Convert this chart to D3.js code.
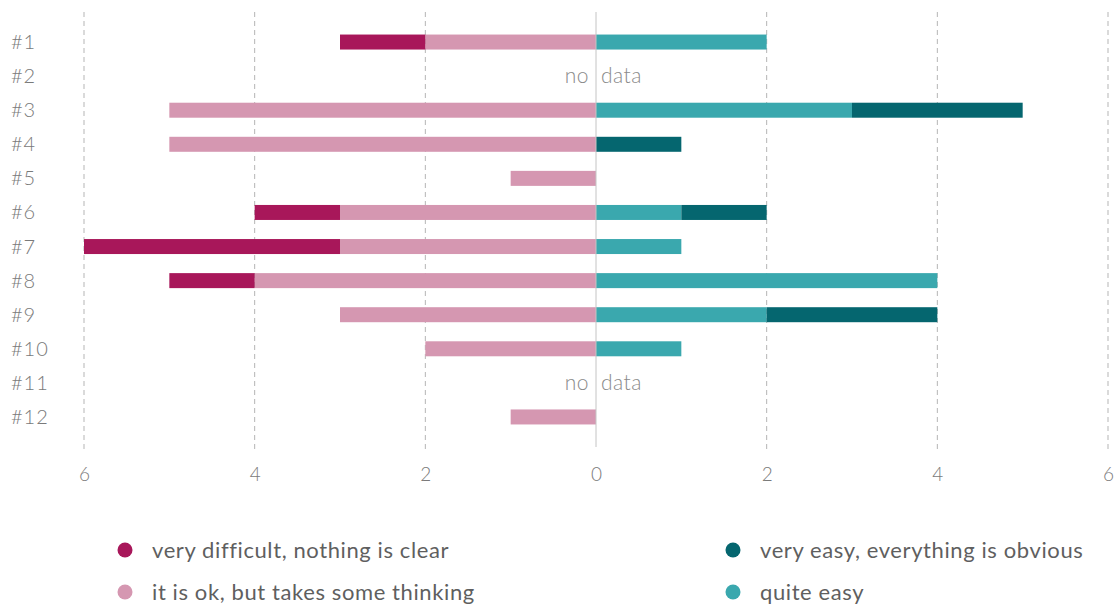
<!DOCTYPE html>
<html>
<head>
<meta charset="utf-8">
<script src="https://cdn.jsdelivr.net/npm/d3@7"></script>
<style>
  body { margin: 0; background: #fff; }
  svg { font-family: "Century Gothic", "Lato", "Noto Sans", sans-serif; }
</style>
</head>
<body>
<svg id="chart" width="1119" height="610"></svg>
<script>
// categories (rows)
const rows = ["#1", "#2", "#3", "#4", "#5", "#6", "#7", "#8", "#9", "#10", "#11", "#12"]
// null = no data
const veryDifficult = [1, null, 0, 0, 0, 1, 3, 1, 0, 0, null, 0]
const okThinking    = [2, null, 5, 5, 1, 3, 3, 4, 3, 2, null, 1]
const quiteEasy     = [2, null, 3, 0, 0, 1, 1, 4, 2, 1, null, 0]
const veryEasy      = [0, null, 2, 1, 0, 1, 0, 0, 2, 0, null, 0]
const tickValues = [-6, -4, -2, 0, 2, 4, 6]

const colors = {
  vd: "#a8175a",
  ok: "#d597b1",
  qe: "#3aa8ae",
  ve: "#05666f"
}

const svg = d3.select("#chart")

const x = d3.scaleLinear().domain([-6, 6]).range([84, 1108])
const y = d3.scaleBand().domain(rows).range([25, 434]).paddingInner(0.56).paddingOuter(0.28)

// grid lines
svg.append("g")
  .selectAll("line")
  .data(tickValues.filter(d => d !== 0))
  .enter()
  .append("line")
    .attr("x1", d => x(d)).attr("x2", d => x(d))
    .attr("y1", 12).attr("y2", 450)
    .attr("stroke", "#b5b5b5")
    .attr("stroke-width", 1)
    .attr("stroke-dasharray", "5,4")

// build segments
let segs = []
rows.forEach((r, i) => {
  if (okThinking[i] === null) return
  let ok = okThinking[i], vd = veryDifficult[i]
  let qe = quiteEasy[i], ve = veryEasy[i]
  if (ok) segs.push({ row: r, x0: -ok, x1: 0, c: colors.ok })
  if (vd) segs.push({ row: r, x0: -ok - vd, x1: -ok, c: colors.vd })
  if (qe) segs.push({ row: r, x0: 0, x1: qe, c: colors.qe })
  if (ve) segs.push({ row: r, x0: qe, x1: qe + ve, c: colors.ve })
})

svg.append("g")
  .selectAll("rect")
  .data(segs)
  .enter()
  .append("rect")
    .attr("x", d => x(d.x0))
    .attr("y", d => y(d.row))
    .attr("width", d => x(d.x1) - x(d.x0))
    .attr("height", y.bandwidth())
    .attr("fill", d => d.c)

// zero line
svg.append("line")
  .attr("x1", x(0)).attr("x2", x(0))
  .attr("y1", 12).attr("y2", 447)
  .attr("stroke", "#c4c4c4")
  .attr("stroke-width", 1)

// no data labels
const noData = rows.filter((r, i) => okThinking[i] === null)
const nd = svg.append("g").selectAll("g").data(noData).enter().append("g")
nd.append("text")
  .attr("x", x(0) - 7)
  .attr("y", d => y(d) + y.bandwidth() / 2)
  .attr("dy", "0.35em")
  .attr("text-anchor", "end")
  .attr("font-size", 21)
  .attr("font-weight", 300)
  .attr("letter-spacing", 0.5)
  .attr("fill", "#8a8a8a")
  .text("no")
nd.append("text")
  .attr("x", x(0) + 5)
  .attr("y", d => y(d) + y.bandwidth() / 2)
  .attr("dy", "0.35em")
  .attr("font-size", 21)
  .attr("font-weight", 300)
  .attr("letter-spacing", 0.5)
  .attr("fill", "#8a8a8a")
  .text("data")

// row labels
svg.append("g")
  .selectAll("text")
  .data(rows)
  .enter()
  .append("text")
    .attr("x", 11)
    .attr("y", d => y(d) + y.bandwidth() / 2)
    .attr("dy", "0.35em")
    .attr("font-size", 20)
    .attr("font-weight", 300)
    .attr("letter-spacing", 1)
    .attr("fill", "#7a7a7a")
    .text(d => d)

// x axis labels (absolute values)
const xAxis = d3.axisBottom(x)
  .tickValues(tickValues)
  .tickFormat(d => Math.abs(d))
  .tickSize(0)
  .tickPadding(0)
const ax = svg.append("g").attr("transform", "translate(0,467)").call(xAxis)
ax.select(".domain").remove()
ax.selectAll("text")
  .attr("font-size", 19)
  .attr("font-weight", 300)
  .attr("fill", "#7a7a7a")
  .attr("font-family", "\"Century Gothic\", Lato, sans-serif")

// legend
const legendItems = [
  { label: "very difficult, nothing is clear", c: colors.vd, x: 125, y: 550 },
  { label: "it is ok, but takes some thinking", c: colors.ok, x: 125, y: 592 },
  { label: "very easy, everything is obvious", c: colors.ve, x: 733, y: 550 },
  { label: "quite easy", c: colors.qe, x: 733, y: 592 }
]
const lg = svg.append("g").selectAll("g").data(legendItems).enter().append("g")
lg.append("circle")
  .attr("cx", d => d.x).attr("cy", d => d.y).attr("r", 7.5)
  .attr("fill", d => d.c)
lg.append("text")
  .attr("x", d => d.x + 27)
  .attr("y", d => d.y)
  .attr("dy", "0.35em")
  .attr("font-size", 22)
  .attr("letter-spacing", 0.6)
  .attr("fill", "#5f5f5f")
  .text(d => d.label)
</script>
</body>
</html>
